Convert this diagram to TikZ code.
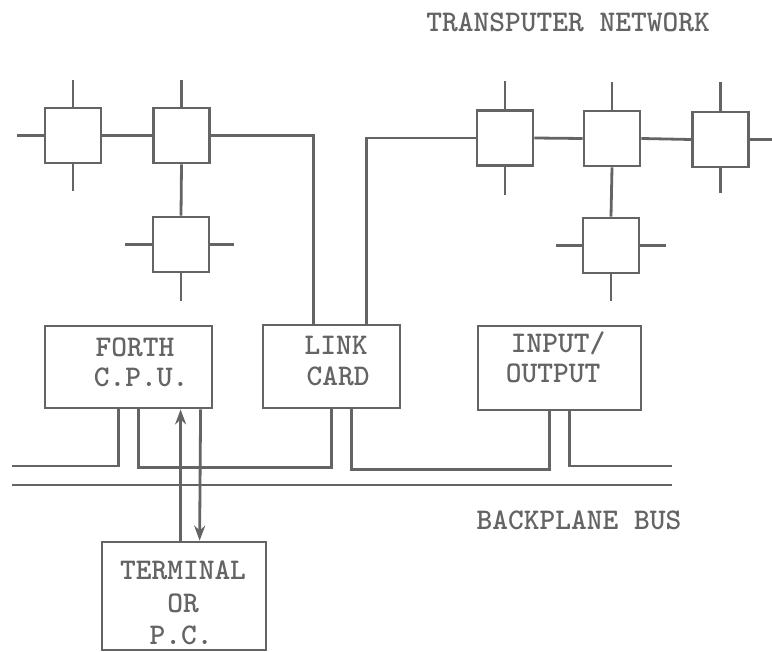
\documentclass[tikz,border=0pt]{standalone}
\usetikzlibrary{arrows.meta,calc}
\definecolor{ink}{RGB}{100,100,100}
\begin{document}
\begin{tikzpicture}[x=1pt,y=-1pt,
  line width=2.8pt, draw=ink, ink,
  tbox/.style={draw=ink, minimum width=56pt, minimum height=55pt, inner sep=0pt},
  card/.style={draw=ink, inner sep=0pt},
  lbl/.style={text=ink, font=\ttfamily\bfseries\fontsize{30}{32}\selectfont, inner sep=0pt},
  tip/.style={-{Stealth[length=15pt,width=11pt]}}]
\useasboundingbox (0,0) rectangle (772,652);
% transputers left
\node[tbox] (A) at (73,135.5) {};
\node[tbox] (B) at (181.5,135.5) {};
\node[tbox] (C) at (181,244.5) {};
% transputers right
\node[tbox] (D) at (505,138) {};
\node[tbox] (E) at (612,138.5) {};
\node[tbox] (F) at (611,245.5) {};
\node[tbox] (G) at (720.5,139.5) {};
% cards
\node[card, minimum width=167pt, minimum height=82pt] (forth) at (128.5,367) {};
\node[card, minimum width=137pt, minimum height=83pt] (link) at (331.5,366.5) {};
\node[card, minimum width=163pt, minimum height=84pt] (io) at (559.5,368) {};
\node[card, minimum width=164pt, minimum height=108pt] (term) at (184,596) {};
% texts
\node[lbl] (t1) at (568,22) {TRANSPUTER NETWORK};
\node[lbl] (t2) at (579,520) {BACKPLANE BUS};
\node[lbl] (f1) at (135,347) {FORTH};
\node[lbl] (f2) at (141,377) {C.P.U.};
\node[lbl] (l1) at (336,345) {LINK};
\node[lbl] (l2) at (338,376) {CARD};
\node[lbl] (i1) at (558,343) {INPUT/};
\node[lbl] (i2) at (553,373) {OUTPUT};
\node[lbl] (r1) at (183,570) {TERMINAL};
\node[lbl] (r2) at (183,603) {OR};
\node[lbl] (r3) at (181,635) {P.C.};
% stubs
\draw (A.north) -- ++(0,-27);
\draw (A.south) -- ++(0,27);
\draw (A.west) -- ++(-27,0);
\draw (B.north) -- ++(0,-27);
\draw (A.east) -- (B.west);
\draw (B.south) -- (C.north);
\draw (C.west) -- ++(-27,0);
\draw (C.east) -- ++(24,0);
\draw (C.south) -- ++(0,28);
\draw (D.north) -- ++(0,-28);
\draw (D.south) -- ++(0,28);
\draw (D.east) -- (E.west);
\draw (E.north) -- ++(0,-28);
\draw (E.south) -- (F.north);
\draw (E.east) -- (G.west);
\draw (F.west) -- ++(-26,0);
\draw (F.east) -- ++(26,0);
\draw (F.south) -- ++(0,27);
\draw (G.north) -- ++(0,-29);
\draw (G.south) -- ++(0,25);
\draw (G.east) -- ++(23,0);
% link card to networks
\draw (B.east) -| ([xshift=52pt]link.north west);
\draw ([xshift=105pt]link.north west) |- (D.west);
% backplane
\coordinate (busA) at (12,466);
\coordinate (busE) at (672,466);
\coordinate (lowA) at (12,485);
\coordinate (lowE) at (672,485);
\draw (busA) -| ([xshift=75pt]forth.south west);
\draw ([xshift=95pt]forth.south west) |- ([xshift=70pt,yshift=-58pt]link.south west) -- ([xshift=70pt]link.south west);
\draw ([xshift=90pt]link.south west) |- ([xshift=73pt,yshift=-58pt]io.south west) -- ([xshift=73pt]io.south west);
\draw ([xshift=93pt]io.south west) |- (busE);
\draw (lowA) -- (lowE);
% terminal arrows
\draw[tip] ([xshift=80pt]term.north west) -- ([xshift=137pt]forth.south west);
\draw[tip] ([xshift=157pt]forth.south west) -- ([xshift=99pt]term.north west);
\end{tikzpicture}
\end{document}
